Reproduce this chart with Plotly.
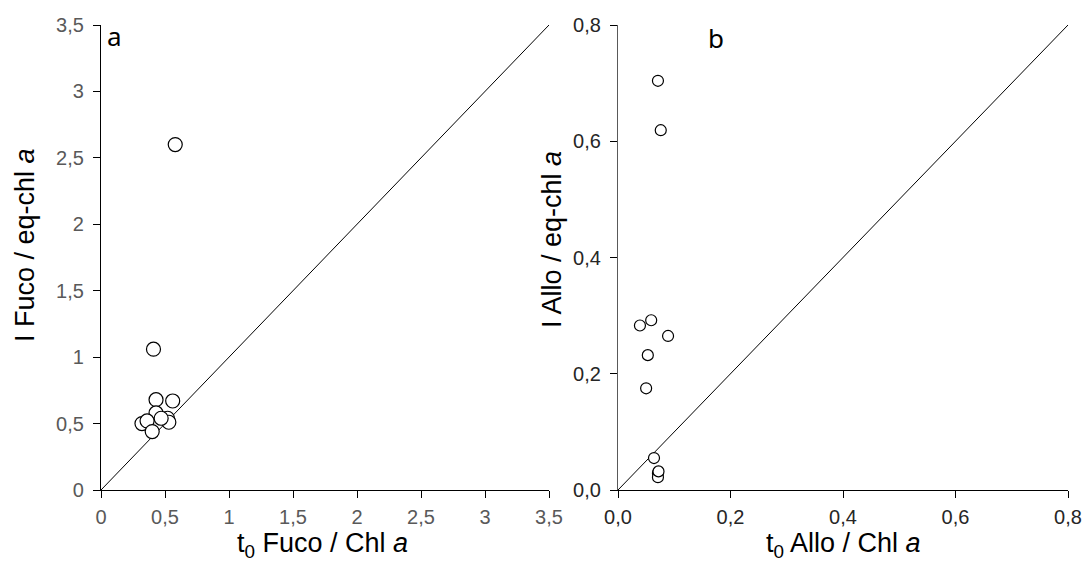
import plotly.graph_objects as go

# Panel a data: t0 Fuco / Chl a  vs  I Fuco / eq-chl a
fuco_t0 = [0.43, 0.56, 0.43, 0.52, 0.53, 0.32, 0.36, 0.40, 0.47, 0.41, 0.58]
fuco_i = [0.68, 0.67, 0.58, 0.54, 0.51, 0.50, 0.52, 0.44, 0.54, 1.06, 2.60]

# Panel b data: t0 Allo / Chl a  vs  I Allo / eq-chl a
allo_t0 = [0.071, 0.076, 0.039, 0.059, 0.089, 0.053, 0.050, 0.064, 0.071, 0.071, 0.072]
allo_i = [0.704, 0.619, 0.283, 0.292, 0.265, 0.232, 0.175, 0.055, 0.029, 0.022, 0.032]

a_ticks = [0, 0.5, 1, 1.5, 2, 2.5, 3, 3.5]
a_ticktext = ["0", "0,5", "1", "1,5", "2", "2,5", "3", "3,5"]
b_ticks = [0, 0.2, 0.4, 0.6, 0.8]
b_ticktext = ["0,0", "0,2", "0,4", "0,6", "0,8"]

# the page body margin is removed (post_script below), so the figure fills the 1086x565 view
W, H = 1086, 565


def px(x):
    return x / W


def py(y):
    return 1 - y / H


a_dom_x = [px(101), px(549)]
b_dom_x = [px(618), px(1068)]
dom_y = [py(490), py(25)]

FONT = "Liberation Sans, Arial, sans-serif"
GRAY = "#595959"

fig = go.Figure()

# 1:1 lines
fig.add_trace(go.Scatter(x=[0, 3.5], y=[0, 3.5], mode="lines", line=dict(color="black", width=1),
                         xaxis="x", yaxis="y", hoverinfo="skip", showlegend=False, cliponaxis=False))
fig.add_trace(go.Scatter(x=[0, 0.8], y=[0, 0.8], mode="lines", line=dict(color="black", width=1),
                         xaxis="x2", yaxis="y2", hoverinfo="skip", showlegend=False, cliponaxis=False))

fig.add_trace(go.Scatter(x=fuco_t0, y=fuco_i, mode="markers", xaxis="x", yaxis="y",
                         marker=dict(symbol="circle", size=14, color="white",
                                     line=dict(color="black", width=1.2)),
                         showlegend=False, cliponaxis=False))
fig.add_trace(go.Scatter(x=allo_t0, y=allo_i, mode="markers", xaxis="x2", yaxis="y2",
                         marker=dict(symbol="circle", size=11, color="white",
                                     line=dict(color="black", width=1.2)),
                         showlegend=False, cliponaxis=False))


def axis(dom, rng, ticks, text, anchor, linecolor, fontcolor, side_ticks="outside", labels=True,
         line=True, standoff=0):
    return dict(domain=dom, range=rng, tickvals=ticks, ticktext=text, anchor=anchor,
                showline=line, linecolor=linecolor, linewidth=1.3, ticks=side_ticks, ticklen=7,
                tickcolor="black", tickwidth=1.2, showgrid=False, zeroline=False, automargin=False,
                showticklabels=labels, tickfont=dict(family=FONT, size=20, color=fontcolor),
                ticklabelstandoff=standoff, fixedrange=True)


fig.update_layout(
    template="none",
    width=W, height=H,
    margin=dict(l=0, r=0, t=0, b=0),
    paper_bgcolor="white", plot_bgcolor="white",
    xaxis=axis(a_dom_x, [0, 3.5], a_ticks, a_ticktext, "y", "black", GRAY, standoff=2),
    yaxis=axis(dom_y, [0, 3.5], a_ticks, a_ticktext, "x", "black", GRAY, standoff=5),
    xaxis2=axis(b_dom_x, [0, 0.8], b_ticks, b_ticktext, "y2", "black", "#262626", standoff=2),
    yaxis2=axis(dom_y, [0, 0.8], b_ticks, b_ticktext, "x2", GRAY, "#262626", standoff=5),
    # inside tick halves so ticks cross the axes
    xaxis3=dict(axis(a_dom_x, [0, 3.5], a_ticks, a_ticktext, "y", "black", GRAY, "inside", False, False),
                overlaying="x"),
    yaxis3=dict(axis(dom_y, [0, 3.5], a_ticks, a_ticktext, "x", "black", GRAY, "inside", False, False),
                overlaying="y"),
    xaxis4=dict(axis(b_dom_x, [0, 0.8], b_ticks, b_ticktext, "y2", "black", GRAY, "inside", False, False),
                overlaying="x2"),
    yaxis4=dict(axis(dom_y, [0, 0.8], b_ticks, b_ticktext, "x2", GRAY, GRAY, "inside", False, False),
                overlaying="y2"),
)

ann_font = dict(family=FONT, size=27, color="black")
fig.add_annotation(text="I Fuco / eq-chl <i>a</i>", x=px(25), y=py(245), xref="paper", yref="paper",
                   textangle=-90, showarrow=False, font=ann_font, xanchor="center", yanchor="middle")
fig.add_annotation(text="t<sub>0</sub> Fuco / Chl <i>a</i>", x=px(322), y=py(545),
                   xref="paper", yref="paper", showarrow=False, font=ann_font,
                   xanchor="center", yanchor="middle")
fig.add_annotation(text="I Allo / eq-chl <i>a</i>", x=px(552), y=py(240), xref="paper", yref="paper",
                   textangle=-90, showarrow=False, font=ann_font, xanchor="center", yanchor="middle")
fig.add_annotation(text="t<sub>0</sub> Allo / Chl <i>a</i>", x=px(843), y=py(545),
                   xref="paper", yref="paper", showarrow=False, font=ann_font,
                   xanchor="center", yanchor="middle")
fig.add_annotation(text="a", x=px(114), y=py(36), xref="paper", yref="paper", showarrow=False,
                   font=dict(family="Noto Sans, sans-serif", size=26, color="black"),
                   xanchor="center", yanchor="middle")
fig.add_annotation(text="b", x=px(716), y=py(38), xref="paper", yref="paper", showarrow=False,
                   font=dict(family="Noto Sans, sans-serif", size=26, color="black"),
                   xanchor="center", yanchor="middle")

fig.write_html("out.html", config={"displayModeBar": False},
               post_script="document.body.style.margin='0';document.body.style.overflow='hidden';")
